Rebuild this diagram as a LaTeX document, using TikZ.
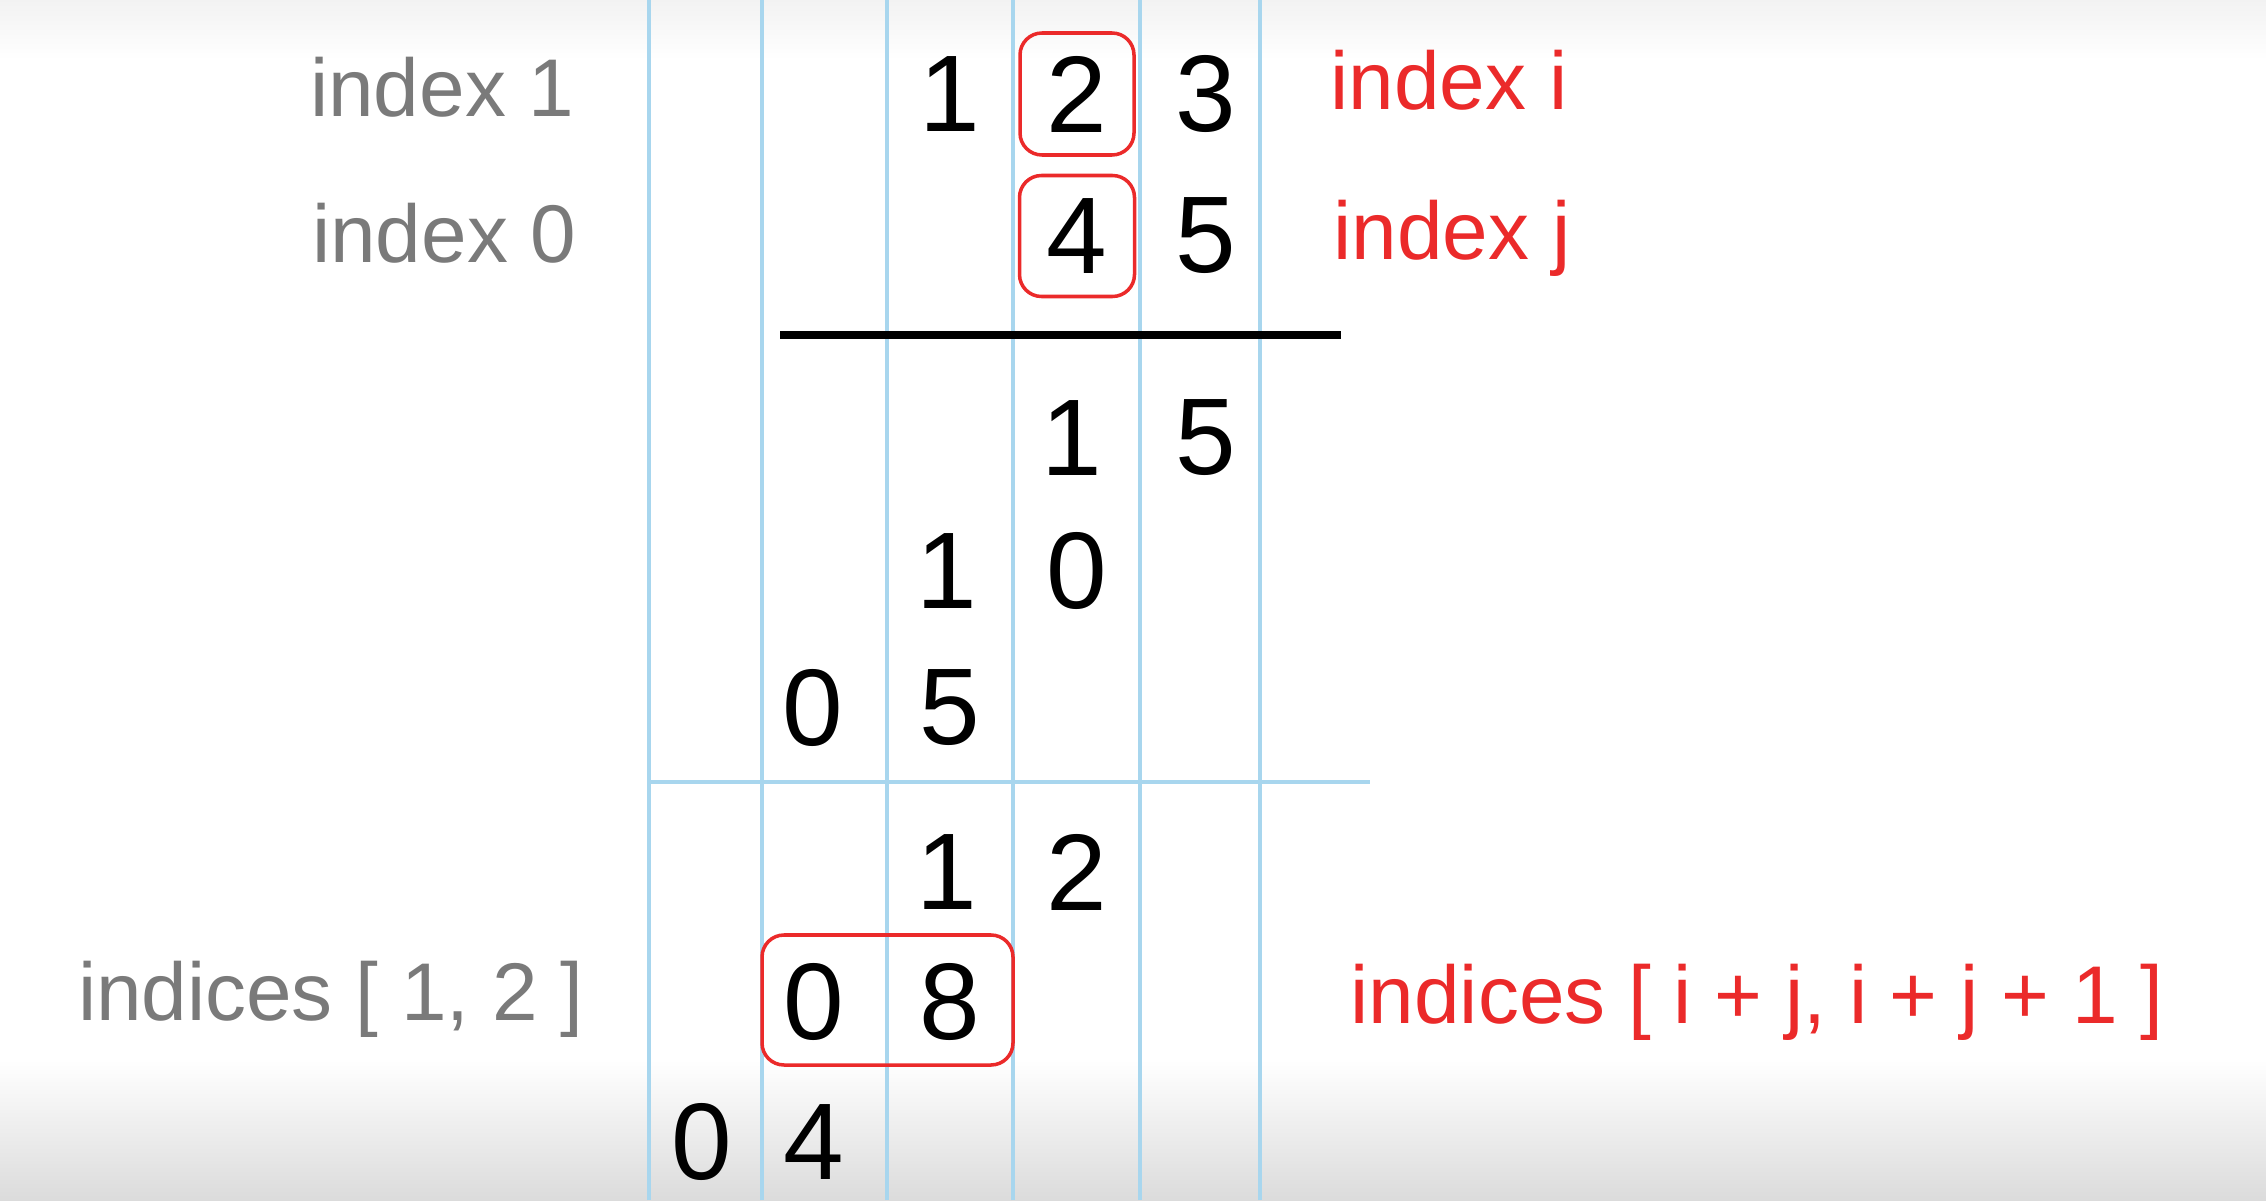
\documentclass[tikz,border=0pt]{standalone}
\usepackage{fontspec}
\setmainfont{Liberation Sans}

\definecolor{gridblue}{RGB}{168,214,238}
\definecolor{markred}{RGB}{235,42,42}
\definecolor{labelgray}{RGB}{122,122,122}

\begin{document}
\begin{tikzpicture}[
        digit/.style={inner sep=0pt,font=\fontsize{31}{36}\selectfont},
        markbox/.style={draw=markred,line width=1pt,rounded corners=0.22cm,inner sep=0pt},
        leftlabel/.style={anchor=base east,inner sep=0pt,text=labelgray,font=\fontsize{23.3}{28}\selectfont},
        rightlabel/.style={anchor=base west,inner sep=0pt,text=markred,font=\fontsize{23.3}{28}\selectfont},
        gridline/.style={gridblue,line width=0.9pt}]

        %\draw [help lines] (0,0) grid (23,12);

        \useasboundingbox (0,0) rectangle (22.66,12);
        \shade[top color=black!5,bottom color=white] (0,11.4) rectangle (22.66,12);
        \shade[top color=white,bottom color=black!14] (0,0) rectangle (22.66,1.4);

        % column lines
        \draw[gridline] (6.49,0) -- (6.49,12);
        \draw[gridline] (7.62,0) -- (7.62,12);
        \draw[gridline] (8.87,0) -- (8.87,12);
        \draw[gridline] (10.13,0) -- (10.13,12);
        \draw[gridline] (11.40,0) -- (11.40,12);
        \draw[gridline] (12.60,0) -- (12.60,12);
        \draw[gridblue,line width=1.1pt] (6.49,4.18) -- (13.70,4.18);

        \draw[line width=2.2pt] (7.80,8.65) -- (13.41,8.65);

        \path   (9.50,11.06) node (top1) [digit] {1}
                (10.77,11.06) node (top2) [digit,markbox,minimum width=1.14cm,minimum height=1.22cm] {2}
                (12.06,11.06) node (top3) [digit] {3}
                (10.77,9.64) node (bot4) [digit,markbox,minimum width=1.15cm,minimum height=1.21cm] {4}
                (12.06,9.64) node (bot5) [digit] {5}
                (10.72,7.62) node (sa1) [digit] {1}
                (12.06,7.62) node (sa5) [digit] {5}
                (9.47,6.29) node (sb1) [digit] {1}
                (10.77,6.29) node (sb0) [digit] {0}
                (8.13,4.92) node (sc0) [digit] {0}
                (9.50,4.92) node (sc5) [digit] {5}
                (9.47,3.28) node (sd1) [digit] {1}
                (10.77,3.28) node (sd2) [digit] {2}
                (8.14,1.98) node (se0) [digit] {0}
                (9.50,1.98) node (se8) [digit] {8}
                (7.02,0.58) node (sf0) [digit] {0}
                (8.14,0.58) node (sf4) [digit] {4};

        \node (pairbox) [markbox,minimum width=2.51cm,minimum height=1.30cm] at (8.875,2.00) {};

        \path   (5.75,10.83) node (lab1) [leftlabel] {index 1}
                (5.77,9.37) node (lab0) [leftlabel] {index 0}
                (5.84,1.80) node (labidx) [leftlabel] {indices [ 1, 2 ]}
                (13.30,10.90) node (labi) [rightlabel] {index i}
                (13.33,9.40) node (labj) [rightlabel] {index j}
                (13.50,1.77) node (labij) [rightlabel] {indices [ i + j, i + j + 1 ]};

\end{tikzpicture}
\end{document}
